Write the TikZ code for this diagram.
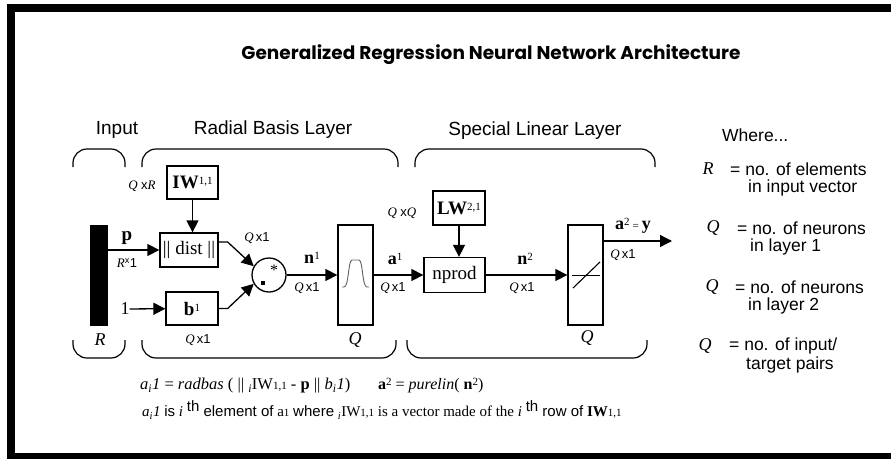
\documentclass[tikz,border=0pt]{standalone}
\usepackage{fontspec}
\usepackage{tikz}
\usetikzlibrary{arrows.meta,positioning}
\setmainfont{Liberation Serif}
\setsansfont{Liberation Sans}
\newfontfamily\titlefont{Poppins}
\definecolor{ink}{RGB}{0,0,0}
\definecolor{bellgray}{RGB}{95,95,95}
\tikzset{
  blk/.style={draw=ink,line width=1.3pt,inner sep=0pt,font=\fontsize{19}{21}\selectfont},
  tallbox/.style={draw=ink,line width=1.3pt,minimum width=35pt,minimum height=100pt,inner sep=0pt},
  wire/.style={draw=ink,line width=1.3pt,-{Triangle[length=12pt,width=12pt]}},
  dimlbl/.style={font=\fontsize{13}{15}\selectfont,inner sep=0pt},
  symlbl/.style={font=\fontsize{18}{20}\selectfont,inner sep=0pt},
  hdr/.style={font=\sffamily\fontsize{19}{21}\selectfont,inner sep=0pt},
  legtxt/.style={font=\sffamily\fontsize{17.5}{19}\selectfont,anchor=west,inner sep=0pt},
  brk/.style={draw=ink,line width=1.2pt,rounded corners=14pt},
}
\newcommand{\sm}[1]{{\fontsize{11}{11}\selectfont #1}}
\newcommand{\up}[1]{\raisebox{4pt}{\sm{#1}}}
\newcommand{\qx}[2]{{\itshape #1}\,{\sffamily x#2}}
\newcommand{\brtop}[2]{\draw[brk] (#1,167) -- (#1,149) -- (#2,149) -- (#2,167);}
\newcommand{\brbot}[2]{\draw[brk] (#1,340) -- (#1,358) -- (#2,358) -- (#2,340);}

\begin{document}
\begin{tikzpicture}[x=1pt,y=-1pt]
  \useasboundingbox (0,0) rectangle (891,458);
  \clip (0,0) rectangle (891,458);
  % frame
  \draw[line width=8pt] (900,8) -- (11,8) -- (11,457) -- (900,457);
  \node[font=\titlefont\bfseries\fontsize{18.5}{21}\selectfont] (title) at (491,55)
    {Generalized Regression Neural Network Architecture};
  % layer headers and brackets
  \node[hdr] (hin) at (117,130) {Input};
  \node[hdr] (hrb) at (273,130) {Radial Basis Layer};
  \node[hdr] (hsl) at (535,131) {Special Linear Layer};
  \brtop{73}{125} \brtop{142}{398} \brtop{415}{655}
  \brbot{73}{125} \brbot{142}{396} \brbot{407}{647}

  % input
  \node[fill=ink,minimum width=18pt,minimum height=101pt,inner sep=0pt] (bar) at (99,275.5) {};
  \node[symlbl,font=\itshape\fontsize{18}{20}\selectfont] (rlbl) at (100,340) {R};
  % radial basis layer
  \node[blk,minimum width=51pt,minimum height=33pt] (iw) at (192.5,182.5) {\textbf{IW}\up{1,1}};
  \node[blk,minimum width=58pt,minimum height=34pt] (dist) at (189,250) {|| dist ||};
  \node[blk,minimum width=52pt,minimum height=33pt] (bias) at (192,308.5) {\textbf{b}\up{1}};
  \node[draw=ink,circle,line width=1.3pt,minimum size=34pt,inner sep=0pt] (mult) at (269,275) {};
  \fill[ink] ([shift={(-8,6)}]mult.center) rectangle ++(4,4);
  \node[font=\fontsize{16}{16}\selectfont,inner sep=0pt] (star) at ([shift={(5,-5)}]mult.center) {*};
  \node[tallbox] (radbas) at (355.5,275) {};
  \draw[bellgray,line width=0.9pt] ([shift={(-13.5,12)}]radbas.center) -- ++(2,0)
    .. controls ++(5,0) and ++(-4,0) .. ++(8,-27) -- ++(7,0)
    .. controls ++(4,0) and ++(-5,0) .. ++(8,27) -- ++(2,0);
  \node[symlbl] (one) at (125,309) {1};
  \node[symlbl,font=\bfseries\fontsize{19}{20}\selectfont] (plbl) at (127,238) {p};
  \node[dimlbl] (pdim) at (127,263) {{\itshape R}\textsuperscript{\sffamily x}{\sffamily 1}};
  \node[dimlbl] (iwdim) at (142,186) {{\itshape Q} {\sffamily x}{\itshape R}};
  \node[dimlbl] (ddim) at (257,238) {\qx{Q}{1}};
  \node[dimlbl] (bdim) at (198,340) {\qx{Q}{1}};
  \node[symlbl] (n1) at (312,258) {\textbf{n}\up{1}};
  \node[dimlbl] (n1dim) at (307,288) {\qx{Q}{1}};
  \node[symlbl,font=\itshape\fontsize{18}{20}\selectfont] (q1) at (355,340) {Q};

  % special linear layer
  \node[blk,minimum width=52pt,minimum height=34pt] (lw) at (459,208) {\textbf{LW}\up{2,1}};
  \node[blk,minimum width=61pt,minimum height=35pt] (nprod) at (454.5,275) {nprod};
  \node[tallbox] (purelin) at (585.5,275) {};
  \draw[line width=0.9pt] ([shift={(-13.5,0)}]purelin.center) -- ++(28,0);
  \draw[line width=1.1pt] ([shift={(-12.5,13)}]purelin.center) -- ++(27,-26);
  \node[symlbl] (a1) at (395,259) {\textbf{a}\up{1}};
  \node[dimlbl] (a1dim) at (393,288) {\qx{Q}{1}};
  \node[dimlbl] (lwdim) at (402,213) {{\itshape Q} {\sffamily x}{\itshape Q}};
  \node[symlbl] (n2) at (525,259) {\textbf{n}\up{2}};
  \node[dimlbl] (n2dim) at (522,288) {\qx{Q}{1}};
  \node[symlbl,font=\itshape\fontsize{18}{20}\selectfont] (q2) at (587,338) {Q};
  \node[symlbl] (a2) at (633,226) {\textbf{a}\up{2}\,\sm{=}\,\textbf{y}};
  \node[dimlbl] (a2dim) at (623,255) {\qx{Q}{1}};
  \coordinate (out) at (672,241);

  % connectors
  \draw[wire] (bar.east |- dist.west) -- (dist.west);
  \draw[wire] (iw.south) -- (iw.south |- dist.north);
  \draw[wire] (one) -- (bias);
  \draw[wire] ([yshift=8pt]dist.east) -- ++(9,0) -- (mult.150);
  \draw[wire] (bias.east) -- ++(9,0) -- (mult.210);
  \draw[wire] (mult) -- (radbas);
  \draw[wire] (radbas) -- (nprod);
  \draw[wire] (lw.south) -- (lw.south |- nprod.north);
  \draw[wire] (nprod) -- (purelin);
  \draw[wire] (purelin.east |- out) -- (out);

  % legend
  \node[legtxt] (where) at (722,135) {Where...};
  \node[symlbl,font=\itshape\fontsize{18}{20}\selectfont] (lr) at (708,169) {R};
  \node[legtxt] (lr1) at (730,169) {= no. of elements};
  \node[legtxt] (lr2) at (748,188) {in input vector};
  \node[symlbl,font=\itshape\fontsize{18}{20}\selectfont] (lq1) at (713,228) {Q};
  \node[legtxt] (lq11) at (737,228) {= no. of neurons};
  \node[legtxt] (lq12) at (750,247) {in layer 1};
  \node[symlbl,font=\itshape\fontsize{18}{20}\selectfont] (lq2) at (712,287) {Q};
  \node[legtxt] (lq21) at (735,287) {= no. of neurons};
  \node[legtxt] (lq22) at (748,306) {in layer 2};
  \node[symlbl,font=\itshape\fontsize{18}{20}\selectfont] (lq3) at (705,346) {Q};
  \node[legtxt] (lq31) at (729,346) {= no. of input/};
  \node[legtxt] (lq32) at (746,365) {target pairs};

  % equations
  \node[anchor=west,inner sep=0pt,font=\fontsize{16.5}{18}\selectfont] (eq1) at (140,386)
    {{\itshape a}\textsubscript{\itshape i}{\itshape 1} = {\itshape radbas} ( || \textsubscript{\itshape i}IW\sm{1,1} - \textbf{p} || {\itshape b}\textsubscript{\itshape i}{\itshape 1})};
  \node[anchor=west,inner sep=0pt,font=\fontsize{16}{18}\selectfont] (eq2) at (378,386)
    {\textbf{a}\up{2} = {\itshape purelin}( \textbf{n}\up{2})};
  \node[anchor=west,inner sep=0pt,font=\fontsize{15}{18}\selectfont] (note) at (142,410)
    {{\itshape a}\textsubscript{\itshape i}{\itshape 1} {\sffamily is} {\itshape i} {\sffamily\raisebox{5pt}{th} element of} a\sm{1} {\sffamily where} \textsubscript{\itshape i}IW\sm{1,1} is a vector made of the {\itshape i} {\sffamily\raisebox{5pt}{th} row of} \textbf{IW}\sm{1,1}};
\end{tikzpicture}
\end{document}
